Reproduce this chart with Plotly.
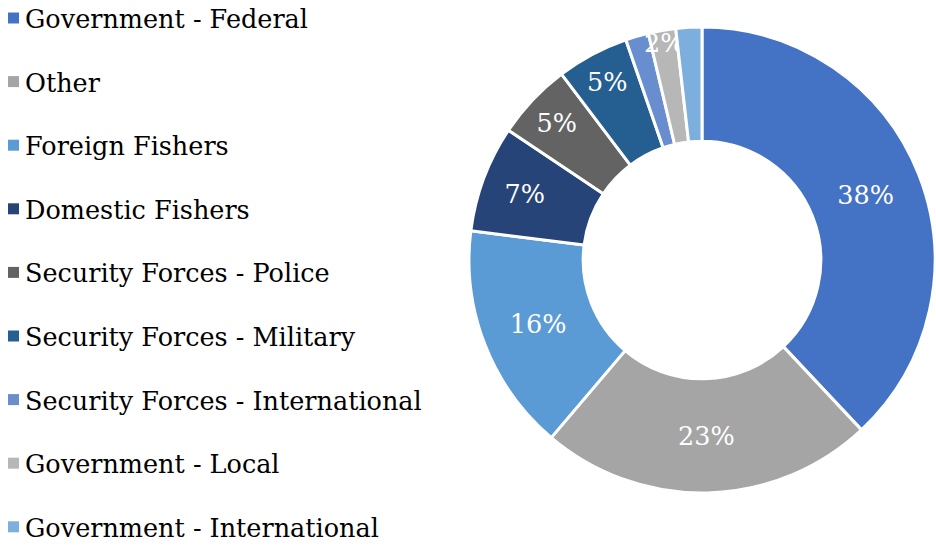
import plotly.graph_objects as go

# Share of responses by stakeholder group (percent)
categories = [
    "Government - Federal",
    "Other",
    "Foreign Fishers",
    "Domestic Fishers",
    "Security Forces - Police",
    "Security Forces - Military",
    "Security Forces - International",
    "Government - Local",
    "Government - International",
]
values = [38.0, 23.2, 15.8, 7.4, 5.3, 5.0, 1.6, 1.9, 1.8]
show_label = [True, True, True, True, True, True, False, True, False]

colors = [
    "#4472C4", "#A5A5A5", "#5B9BD5", "#264478", "#636363",
    "#255E91", "#698ED0", "#B7B7B7", "#7CAFDD",
]

W, H = 936, 546
FONT = "DejaVu Serif"

fig = go.Figure()
fig.add_trace(go.Pie(
    labels=categories,
    values=values,
    sort=False,
    direction="clockwise",
    rotation=0,
    hole=0.51,
    marker=dict(colors=colors, line=dict(color="white", width=3)),
    texttemplate=["%{percent:.0%}" if s else "" for s in show_label],
    textposition="inside",
    insidetextorientation="horizontal",
    textfont=dict(family=FONT, size=25.5, color="white"),
    showlegend=False,
    hoverinfo="label+percent",
    domain=dict(x=[469 / W, 935 / W], y=[53 / H, 519 / H]),
))

# Legend drawn at the left: a coloured square followed by the label
row0, step = 18, 63.6
for i, (name, col) in enumerate(zip(categories, colors)):
    yc = row0 + step * i
    fig.add_shape(
        type="rect", xref="paper", yref="paper",
        x0=8 / W, x1=19 / W,
        y0=1 - (yc + 5.5) / H, y1=1 - (yc - 5.5) / H,
        fillcolor=col, line=dict(width=0),
    )
    fig.add_annotation(
        x=24 / W, y=1 - (yc + 1) / H, xref="paper", yref="paper",
        text=name, showarrow=False, xanchor="left", yanchor="middle",
        borderpad=0,
        font=dict(family=FONT, size=25.5, color="black"),
    )

fig.update_layout(
    width=W, height=H,
    margin=dict(l=0, r=0, t=0, b=0),
    paper_bgcolor="white",
    plot_bgcolor="white",
    font=dict(family=FONT),
    uniformtext=dict(minsize=25.5, mode="show"),
)

fig.write_html("out.html")
